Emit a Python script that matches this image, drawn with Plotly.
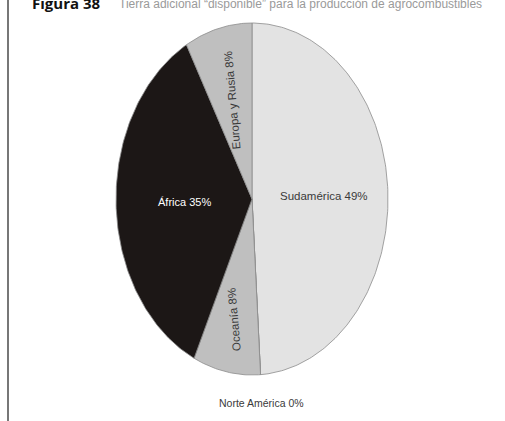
import numpy as np
import plotly.graph_objects as go

# Data
regions = ["Sudamérica", "Norte América", "Oceanía", "África", "Europa y Rusia"]
shares = [49, 0, 8, 35, 8]
colors = ["#e3e3e3", "#d0d0d0", "#bfbfbf", "#1c1716", "#bfbfbf"]
label_colors = ["#3a3a3a", "#3a3a3a", "#3a3a3a", "#ffffff", "#3a3a3a"]
label_radius = [0.53, 1.16, 0.70, 0.50, 0.58]
label_rotated = [False, False, True, False, True]
label_sizes = [11.5, 10.5, 11.5, 11, 11.5]

title_bold = "Figura 38"
title_rest = "Tierra adicional \u201cdisponible\u201d para la producción de agrocombustibles"

W, H = 505, 421
cx, cy, rx, ry = 252, 199, 136, 176

fig = go.Figure()

total = float(sum(shares))
start = 0.0
annotations = []
for name, val, col, lc, lr, rot, fs in zip(regions, shares, colors, label_colors,
                                           label_radius, label_rotated, label_sizes):
    a0 = start / total * 2 * np.pi
    a1 = (start + val) / total * 2 * np.pi
    start += val
    t = np.linspace(a0, a1, max(2, int(val * 4) + 2))
    xs = np.concatenate([[cx], cx + rx * np.sin(t), [cx]])
    ys = np.concatenate([[cy], cy - ry * np.cos(t), [cy]])
    fig.add_trace(go.Scatter(
        x=xs, y=ys, mode="lines", fill="toself", fillcolor=col,
        line=dict(color="#8c8c8c", width=0.8), hoverinfo="skip",
        showlegend=False, name=name))
    am = (a0 + a1) / 2
    lx = cx + rx * lr * np.sin(am)
    ly = cy - ry * lr * np.cos(am)
    annotations.append(dict(
        x=lx, y=ly, xref="x", yref="y", text=f"{name} {val}%",
        showarrow=False, textangle=-95 if rot else 0,
        font=dict(family="Liberation Sans, Arial, sans-serif", size=fs, color=lc),
        xanchor="center", yanchor="middle"))

# Title (cropped at top, as in the reference)
annotations.append(dict(
    x=30, y=3, xref="x", yref="y", text=f"<b>{title_bold}</b>", showarrow=False,
    xanchor="left", yanchor="middle",
    font=dict(family="Open Sans, Liberation Sans, sans-serif", size=15, color="#111111")))
annotations.append(dict(
    x=117, y=4, xref="x", yref="y", text=title_rest, showarrow=False,
    xanchor="left", yanchor="middle",
    font=dict(family="Liberation Sans, Arial, sans-serif", size=12, color="#9a9a9a")))

fig.update_layout(
    width=W, height=H,
    margin=dict(l=0, r=0, t=0, b=0),
    paper_bgcolor="#ffffff", plot_bgcolor="#ffffff",
    xaxis=dict(range=[0, W], visible=False, fixedrange=True),
    yaxis=dict(range=[H, 0], visible=False, fixedrange=True),
    annotations=annotations,
    shapes=[dict(type="line", xref="x", yref="y", x0=8, x1=8, y0=0, y1=H,
                 line=dict(color="#777777", width=2))],
)

fig.write_html("out.html", config={"displayModeBar": False},
               post_script="document.body.style.margin='0px';")
